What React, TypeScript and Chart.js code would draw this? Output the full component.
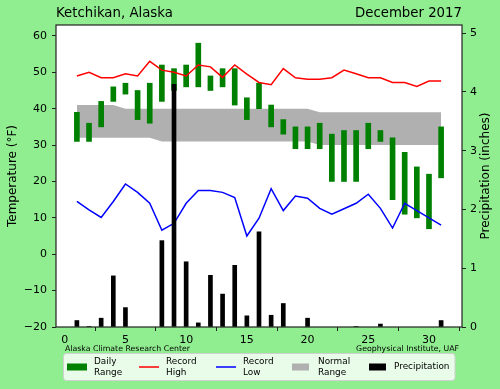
import React, { useEffect, useRef } from "react";
import { Chart, registerables } from "chart.js";

Chart.register(...registerables);

const FONT = "'DejaVu Sans', sans-serif";

const days = [1, 2, 3, 4, 5, 6, 7, 8, 9, 10, 11, 12, 13, 14, 15, 16, 17, 18, 19, 20, 21, 22, 23, 24, 25, 26, 27, 28, 29, 30, 31];
const rangeLow = [31, 31, 35, 42, 44, 37, 36, 42, 45, 46, 46, 45, 46, 41, 37, 40, 35, 33, 29, 29, 29, 20, 20, 20, 29, 31, 15, 11, 10, 7, 21];
const rangeHigh = [39, 36, 42, 46, 47, 45, 47, 52, 51, 52, 58, 49, 51, 51, 43, 47, 41, 37, 35, 35, 36, 33, 34, 34, 36, 34, 32, 28, 24, 22, 35];
const recordHigh = [49, 50, 48.5, 48.5, 49.6, 49, 53, 50.6, 50, 49, 52, 51.5, 48.6, 52, 49.5, 47.2, 46.6, 51, 48.5, 48.1, 48.1, 48.5, 50.6, 49.6, 48.5, 48.5, 47.2, 47.2, 46.1, 47.6, 47.6];
const recordLow = [14.5, 12.2, 10.1, 14.5, 19.3, 17, 14, 6.6, 8.5, 14, 17.5, 17.5, 17, 15.6, 5, 9.9, 18, 12, 16, 15.4, 12.6, 11, 12.5, 14, 16.5, 12.6, 7.2, 14, 12, 10, 8];
const normalHigh = [41, 41, 41, 41, 40, 40, 40, 40, 40, 40, 40, 40, 40, 40, 40, 40, 40, 40, 40, 40, 39, 39, 39, 39, 39, 39, 39, 39, 39, 39, 39];
const normalLow = [32, 32, 32, 32, 32, 32, 32, 31, 31, 31, 31, 31, 31, 31, 31, 31, 31, 31, 31, 31, 30, 30, 30, 30, 30, 30, 30, 30, 30, 30, 30];
const precipDays = [1, 2, 3, 4, 5, 8, 9, 10, 11, 12, 13, 14, 15, 16, 17, 18, 20, 24, 26, 31];
const precipValues = [0.11, 0.01, 0.15, 0.87, 0.33, 1.47, 4.13, 1.11, 0.07, 0.88, 0.56, 1.05, 0.19, 1.62, 0.2, 0.4, 0.15, 0.01, 0.05, 0.11];
const xTicks = [0, 5, 10, 15, 20, 25, 30];
const tempTicks = [-20, -10, 0, 10, 20, 30, 40, 50, 60];
const precipTicks = [0, 1, 2, 3, 4, 5];

const legendItems = [
  { kind: "rect", color: "#008000", lines: ["Daily", "Range"] },
  { kind: "line", color: "#ff0000", lines: ["Record", "High"] },
  { kind: "line", color: "#0000ff", lines: ["Record", "Low"] },
  { kind: "rect", color: "#b0b0b0", lines: ["Normal", "Range"] },
  { kind: "rect", color: "#000000", lines: ["Precipitation"] },
];

const decorPlugin = {
  id: "decor",
  beforeDraw(chart: any) {
    const { ctx, chartArea: a } = chart;
    ctx.save();
    ctx.fillStyle = "#90ee90";
    ctx.fillRect(0, 0, chart.width, chart.height);
    ctx.fillStyle = "#ffffff";
    ctx.fillRect(a.left, a.top, a.right - a.left, a.bottom - a.top);
    ctx.restore();
  },
  afterDraw(chart: any) {
    const { ctx, chartArea: a } = chart;
    ctx.save();
    // spines
    ctx.strokeStyle = "#222";
    ctx.lineWidth = 1.2;
    ctx.strokeRect(a.left, a.top, a.right - a.left, a.bottom - a.top);

    ctx.fillStyle = "#000";
    ctx.textBaseline = "middle";
    // titles
    ctx.font = `13.3px ${FONT}`;
    ctx.textAlign = "left";
    ctx.fillText("Ketchikan, Alaska", a.left, 14);
    ctx.textAlign = "right";
    ctx.fillText("December 2017", a.right, 14);

    // axis titles
    const cy = (a.top + a.bottom) / 2;
    ctx.font = `12px ${FONT}`;
    ctx.textAlign = "center";
    ctx.save();
    ctx.translate(13, cy);
    ctx.rotate(-Math.PI / 2);
    ctx.fillText("Temperature (°F)", 0, 0);
    ctx.restore();
    ctx.save();
    ctx.translate(486, cy);
    ctx.rotate(-Math.PI / 2);
    ctx.fillText("Precipitation (inches)", 0, 0);
    ctx.restore();

    // attribution
    ctx.font = `7.8px ${FONT}`;
    ctx.textAlign = "left";
    ctx.fillText("Alaska Climate Research Center", 65, 349);
    ctx.textAlign = "right";
    ctx.fillText("Geophysical Institute, UAF", 459, 349);

    // legend
    const lx = 63.5, ly = 353.5, lw = 391.5, lh = 27;
    ctx.beginPath();
    ctx.roundRect(lx, ly, lw, lh, 3);
    ctx.fillStyle = "rgba(255,255,255,0.8)";
    ctx.fill();
    ctx.strokeStyle = "#d0d0d0";
    ctx.lineWidth = 1;
    ctx.stroke();

    const swX = [67, 139, 216, 292, 369];
    const txX = [94, 166, 243, 318, 394];
    const midY = 367;
    ctx.font = `8.9px ${FONT}`;
    ctx.textAlign = "left";
    legendItems.forEach((it, i) => {
      if (it.kind === "rect") {
        ctx.fillStyle = it.color;
        ctx.fillRect(swX[i], midY - 3.5, i === 0 ? 20 : 17, 7);
      } else {
        ctx.strokeStyle = it.color;
        ctx.lineWidth = 1.5;
        ctx.beginPath();
        ctx.moveTo(swX[i], midY);
        ctx.lineTo(swX[i] + 20, midY);
        ctx.stroke();
      }
      ctx.fillStyle = "#000";
      if (it.lines.length === 2) {
        ctx.fillText(it.lines[0], txX[i], midY - 5.5);
        ctx.fillText(it.lines[1], txX[i], midY + 5.5);
      } else {
        ctx.fillText(it.lines[0], txX[i], midY);
      }
    });
    ctx.restore();
  },
};

export default function App() {
  const ref = useRef<HTMLCanvasElement | null>(null);

  useEffect(() => {
    if (!ref.current) return;
    const tickFont = { size: 11, family: FONT };
    const gridOpts = {
      display: true,
      drawOnChartArea: false,
      drawTicks: true,
      tickLength: 4,
      color: "#222",
    };
    const minus = (v: any) => String(v).replace("-", "\u2212");

    const chart = new Chart(ref.current, {
      type: "bar",
      data: {
        datasets: [
          {
            type: "bar",
            label: "Precipitation",
            data: precipDays.map((d, i) => ({ x: d, y: precipValues[i] })),
            backgroundColor: "#000000",
            barThickness: 4,
            grouped: false,
            yAxisID: "y2",
            order: 0,
          } as any,
          {
            type: "line",
            label: "Record High",
            data: days.map((d, i) => ({ x: d, y: recordHigh[i] })),
            borderColor: "#ff0000",
            borderWidth: 1.5,
            pointRadius: 0,
            tension: 0,
            fill: false,
            yAxisID: "y",
            order: 1,
          },
          {
            type: "line",
            label: "Record Low",
            data: days.map((d, i) => ({ x: d, y: recordLow[i] })),
            borderColor: "#0000ff",
            borderWidth: 1.5,
            pointRadius: 0,
            tension: 0,
            fill: false,
            yAxisID: "y",
            order: 1,
          },
          {
            type: "bar",
            label: "Daily Range",
            data: days.map((d, i) => ({ x: d, y: [rangeLow[i], rangeHigh[i]] })),
            backgroundColor: "#008000",
            barThickness: 5,
            grouped: false,
            yAxisID: "y",
            order: 2,
          } as any,
          {
            type: "line",
            label: "Normal Low",
            data: days.map((d, i) => ({ x: d, y: normalLow[i] })),
            borderColor: "rgba(0,0,0,0)",
            borderWidth: 0,
            pointRadius: 0,
            fill: false,
            yAxisID: "y",
            order: 3,
          },
          {
            type: "line",
            label: "Normal High",
            data: days.map((d, i) => ({ x: d, y: normalHigh[i] })),
            borderColor: "rgba(0,0,0,0)",
            borderWidth: 0,
            pointRadius: 0,
            fill: "-1",
            backgroundColor: "#b0b0b0",
            yAxisID: "y",
            order: 3,
          },
        ],
      },
      options: {
        responsive: false,
        animation: false,
        devicePixelRatio: 1,
        layout: { padding: { top: 25, left: 0, right: 0, bottom: 0 } },
        plugins: {
          legend: { display: false },
          title: { display: false },
          tooltip: { enabled: false },
        },
        scales: {
          x: {
            type: "linear",
            offset: false,
            min: -0.72,
            max: 32.72,
            afterBuildTicks: (s: any) => {
              s.ticks = xTicks.map((v) => ({ value: v }));
            },
            afterFit: (s: any) => {
              s.height = 62;
            },
            ticks: { color: "#000", font: tickFont, padding: 3, maxRotation: 0, callback: minus },
            grid: gridOpts,
            border: { display: false },
          },
          y: {
            type: "linear",
            position: "left",
            min: -20,
            max: 63,
            afterBuildTicks: (s: any) => {
              s.ticks = tempTicks.map((v) => ({ value: v }));
            },
            afterFit: (s: any) => {
              s.width = 56;
            },
            ticks: { color: "#000", font: tickFont, padding: 5, callback: minus },
            grid: gridOpts,
            border: { display: false },
          },
          y2: {
            type: "linear",
            position: "right",
            min: 0,
            max: 5.14,
            afterBuildTicks: (s: any) => {
              s.ticks = precipTicks.map((v) => ({ value: v }));
            },
            afterFit: (s: any) => {
              s.width = 38;
            },
            ticks: { color: "#000", font: tickFont, padding: 4, callback: minus },
            grid: gridOpts,
            border: { display: false },
          },
        },
      } as any,
      plugins: [decorPlugin],
    });
    return () => chart.destroy();
  }, []);

  return (
    <div style={{ position: "absolute", left: 0, top: 0, width: 500, height: 389 }}>
      <canvas ref={ref} width={500} height={389} style={{ width: 500, height: 389, display: "block" }} />
    </div>
  );
}
